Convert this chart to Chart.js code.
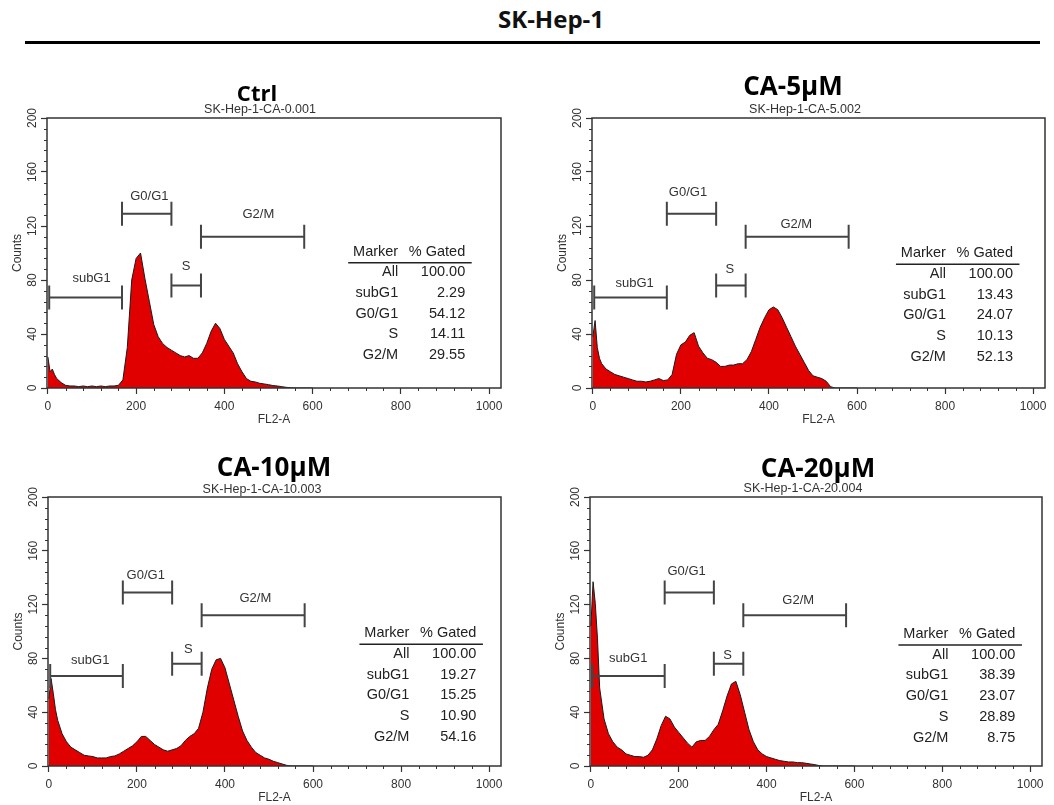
<!DOCTYPE html>
<html lang="en">
<head>
<meta charset="utf-8">
<title>SK-Hep-1 cell cycle</title>
<script src="https://cdn.jsdelivr.net/npm/chart.js@4.4.1/dist/chart.umd.min.js"></script>
<style>
    html, body { margin: 0; padding: 0; background: #fff; }
    .page { position: relative; width: 1054px; height: 805px; overflow: hidden; }
    .figure-title {
        position: absolute; left: 451px; top: 3px; width: 200px;
        text-align: center; font: bold 24px 'Open Sans', sans-serif; line-height: 32px; color: #111;
    }
    .figure-rule { position: absolute; left: 25px; top: 41px; width: 1015px; height: 3px; background: #000; }
    canvas { position: absolute; }
</style>
</head>
<body>
<div class="page">
    <div class="figure-title">SK-Hep-1</div>
    <div class="figure-rule"></div>
    <canvas id="panel-ctrl" width="527" height="367" style="left:0;top:60px"></canvas>
    <canvas id="panel-ca5" width="524" height="367" style="left:530px;top:60px"></canvas>
    <canvas id="panel-ca10" width="527" height="365" style="left:0;top:440px"></canvas>
    <canvas id="panel-ca20" width="524" height="365" style="left:530px;top:440px"></canvas>
</div>
<script>
// FL2-A channel positions where the histograms were read
const fl2Bins = [0, 5, 10, 15, 20, 30, 40, 50, 60, 70, 80, 90, 100, 110, 120, 130, 140, 150, 160, 170,
    180, 190, 200, 210, 220, 230, 240, 250, 260, 270, 280, 290, 300, 310, 320, 330, 340, 350, 360, 370,
    380, 390, 400, 410, 420, 430, 440, 450, 460, 470, 480, 490, 500, 510, 520, 530, 540, 550, 560, 570,
    580, 590, 600];

const ctrlCounts = [23, 12, 14, 10, 7, 4, 2, 1.5, 1.5, 1, 1.5, 1, 1.5, 1, 1.5, 1, 1.5, 1.5, 2, 6,
    30, 80, 96, 100, 81, 64, 47, 38, 33, 30, 28, 26, 24, 23, 24, 22, 22, 26, 33, 42,
    48, 44, 36, 31, 26, 18, 12, 7, 5, 4.5, 3.5, 3, 2.5, 1.8, 1.5, 1, 0.5, 0.2, 0, 0,
    0, 0, 0];
const ca5Counts = [38, 50, 30, 22, 18, 14, 12, 10, 9, 8, 7, 6, 5, 5, 4.5, 5, 6, 7, 5.5, 6,
    10, 25, 32, 34, 39, 41, 31, 26, 22, 21, 19, 16, 16, 17, 17, 18, 18, 21, 27, 36,
    45, 52, 58, 60, 58, 52, 45, 38, 31, 25, 19, 13, 9, 8, 7, 5, 1, 0, 0, 0,
    0, 0, 0];
const ca10Counts = [50, 65, 54, 42, 34, 24, 18, 14, 12, 10, 8, 7.5, 7, 6, 6, 6, 7, 7.5, 9, 11,
    13, 15, 18, 22, 22, 19, 16, 14, 12, 11, 12, 13, 15, 19, 22, 24, 28, 40, 58, 72,
    79, 80, 73, 61, 49, 37, 26, 19, 14, 10, 8, 6, 5, 3.5, 2.5, 1.5, 0.5, 0, 0, 0,
    0, 0, 0];
const ca20Counts = [104, 137, 121, 95, 58, 35, 24, 18, 14, 12, 9, 8, 7, 7, 6.5, 8, 12, 20, 30, 37,
    35, 29, 25, 21, 17, 14, 18, 19, 19, 22, 27, 31, 41, 52, 61, 63, 53, 40, 27, 18,
    12, 9, 7, 6, 5, 4, 3.5, 3, 3, 2.5, 2.5, 2, 1.5, 1, 0.3, 0, 0, 0, 0, 0,
    0, 0, 0];

// marker gates (FL2-A range and the count level the bar is drawn at)
const gateNames = ['subG1', 'G0/G1', 'S', 'G2/M'];
const gateStart = [3, 168, 280, 347];
const gateEnd = [168, 280, 347, 581];
const gateLevel = [67, 129, 76, 112];

const markerNames = ['All', 'subG1', 'G0/G1', 'S', 'G2/M'];
const ctrlGated = [100.00, 2.29, 54.12, 14.11, 29.55];
const ca5Gated = [100.00, 13.43, 24.07, 10.13, 52.13];
const ca10Gated = [100.00, 19.27, 15.25, 10.90, 54.16];
const ca20Gated = [100.00, 38.39, 23.07, 28.89, 8.75];

const panelTitles = ['Ctrl', 'CA-5µM', 'CA-10µM', 'CA-20µM'];
const sampleFiles = ['SK-Hep-1-CA-0.001', 'SK-Hep-1-CA-5.002', 'SK-Hep-1-CA-10.003', 'SK-Hep-1-CA-20.004'];

const xTickValues = [0, 200, 400, 600, 800, 1000];
const yTickValues = [0, 40, 80, 120, 160, 200];
const xMinorStep = 40;
const yMinorStep = 8;

const histRed = '#e00000';
const inkColor = '#333';
const sansFont = "'Liberation Sans', Arial, sans-serif";

// where things sit inside each canvas
const panelLayout = [
    { canvas: 'panel-ctrl', counts: ctrlCounts, gated: ctrlGated, titleSize: 22,
      titleAt: [257, 40.7], subtitleAt: [260, 52.8], pad: { left: 0, top: 58, right: 26 },
      labelX: [99, 230, 313, 477], labelLift: [19, 17, 19, 22], table: [794, 101] },
    { canvas: 'panel-ca5', counts: ca5Counts, gated: ca5Gated, titleSize: 26,
      titleAt: [263, 35], subtitleAt: [275, 52.8], pad: { left: 15, top: 58, right: 9 },
      labelX: [95, 216, 311, 462], labelLift: [14, 21, 16, 12], table: [802, 99.8] },
    { canvas: 'panel-ca10', counts: ca10Counts, gated: ca10Gated, titleSize: 26,
      titleAt: [274, 36], subtitleAt: [262, 52.8], pad: { left: 1, top: 57, right: 26 },
      labelX: [94, 220, 317, 469], labelLift: [15, 17, 14, 17], table: [819, 98.7] },
    { canvas: 'panel-ca20', counts: ca20Counts, gated: ca20Gated, titleSize: 26,
      titleAt: [288, 36.7], subtitleAt: [273, 52.2], pad: { left: 13, top: 57, right: 12 },
      labelX: [85, 218, 311, 472], labelLift: [17, 21, 8, 15], table: [814, 98.1] },
];

const flowOverlay = {
    id: 'flowOverlay',
    afterDatasetsDraw(chart, args, opts) {
        const { ctx, chartArea: area, scales: { x, y } } = chart;
        const layout = opts.layout;
        ctx.save();

        // box round the plot
        ctx.strokeStyle = inkColor;
        ctx.lineWidth = 1.5;
        ctx.strokeRect(area.left, area.top, area.right - area.left, area.bottom - area.top);

        // minor ticks
        ctx.lineWidth = 1;
        ctx.beginPath();
        for (let v = yMinorStep; v < 200; v += yMinorStep) {
            if (v % 40 === 0) continue;
            const py = Math.round(y.getPixelForValue(v)) + 0.5;
            ctx.moveTo(area.left - 3, py);
            ctx.lineTo(area.left, py);
        }
        for (let v = xMinorStep; v < 1000; v += xMinorStep) {
            if (v % 200 === 0) continue;
            const px = Math.round(x.getPixelForValue(v)) + 0.5;
            ctx.moveTo(px, area.bottom);
            ctx.lineTo(px, area.bottom + 3);
        }
        ctx.stroke();

        // gate brackets
        ctx.strokeStyle = '#444';
        ctx.lineWidth = 2;
        ctx.fillStyle = inkColor;
        ctx.font = `13px ${sansFont}`;
        ctx.textAlign = 'center';
        ctx.textBaseline = 'middle';
        gateNames.forEach((name, i) => {
            const x1 = x.getPixelForValue(gateStart[i]);
            const x2 = x.getPixelForValue(gateEnd[i]);
            const py = y.getPixelForValue(gateLevel[i]);
            ctx.beginPath();
            ctx.moveTo(x1, py);
            ctx.lineTo(x2, py);
            ctx.moveTo(x1, py - 12);
            ctx.lineTo(x1, py + 12);
            ctx.moveTo(x2, py - 12);
            ctx.lineTo(x2, py + 12);
            ctx.stroke();
            ctx.fillText(name, x.getPixelForValue(layout.labelX[i]), py - layout.labelLift[i]);
        });

        // marker table
        const markerRight = x.getPixelForValue(layout.table[0]);
        const gatedRight = markerRight + 67;
        const headerY = y.getPixelForValue(layout.table[1]);
        const rowStep = 20.7;
        ctx.fillStyle = '#222';
        ctx.font = `14.5px ${sansFont}`;
        ctx.textAlign = 'right';
        ctx.fillText('Marker', markerRight, headerY);
        ctx.fillText('% Gated', gatedRight, headerY);
        ctx.strokeStyle = '#222';
        ctx.lineWidth = 1.5;
        ctx.beginPath();
        ctx.moveTo(markerRight - 50, headerY + 11);
        ctx.lineTo(gatedRight + 6.5, headerY + 11);
        ctx.stroke();
        markerNames.forEach((name, i) => {
            const rowY = headerY + rowStep * (i + 1);
            ctx.fillText(name, markerRight, rowY);
            ctx.fillText(layout.gated[i].toFixed(2), gatedRight, rowY);
        });

        // panel title and sample file name
        ctx.textAlign = 'center';
        ctx.textBaseline = 'alphabetic';
        ctx.fillStyle = '#000';
        ctx.font = `bold ${layout.titleSize}px 'Open Sans', sans-serif`;
        ctx.fillText(layout.title, layout.titleAt[0], layout.titleAt[1]);
        ctx.fillStyle = inkColor;
        ctx.font = `12.5px ${sansFont}`;
        ctx.fillText(layout.file, layout.subtitleAt[0], layout.subtitleAt[1]);

        ctx.restore();
    },
};

function renderPanel(layout, index) {
    layout.title = panelTitles[index];
    layout.file = sampleFiles[index];
    const tickFont = { family: sansFont, size: 12 };

    return new Chart(document.getElementById(layout.canvas), {
        type: 'line',
        data: {
            datasets: [{
                data: fl2Bins.map((v, i) => ({ x: v, y: layout.counts[i] })),
                borderColor: '#1a1a1a',
                borderWidth: 1,
                backgroundColor: histRed,
                fill: 'origin',
                pointRadius: 0,
                tension: 0,
            }],
        },
        options: {
            responsive: false,
            animation: false,
            events: [],
            layout: { padding: { left: layout.pad.left, top: layout.pad.top, right: layout.pad.right, bottom: 0 } },
            plugins: {
                legend: { display: false },
                tooltip: { enabled: false },
                flowOverlay: { layout },
            },
            scales: {
                x: {
                    type: 'linear',
                    min: -2,
                    max: 1027,
                    afterBuildTicks: scale => { scale.ticks = xTickValues.map(value => ({ value })); },
                    afterFit: scale => { scale.height = 39; },
                    border: { display: false },
                    grid: { drawOnChartArea: false, tickLength: 6, tickColor: inkColor, tickWidth: 1.2 },
                    ticks: { font: tickFont, color: inkColor, padding: 5, maxRotation: 0, callback: value => String(value) },
                    title: { display: true, text: 'FL2-A', font: tickFont, color: inkColor, padding: { top: 0, bottom: 0 } },
                },
                y: {
                    min: 0,
                    max: 200,
                    afterBuildTicks: scale => { scale.ticks = yTickValues.map(value => ({ value })); },
                    afterFit: scale => { scale.width = 47; },
                    border: { display: false },
                    grid: { drawOnChartArea: false, tickLength: 6, tickColor: inkColor, tickWidth: 1.2 },
                    ticks: { font: tickFont, color: inkColor, padding: -2, minRotation: 90, maxRotation: 90, crossAlign: 'center', callback: value => String(value) },
                    title: { display: true, text: 'Counts', font: tickFont, color: inkColor, padding: { top: 10, bottom: 0 } },
                },
            },
        },
        plugins: [flowOverlay],
    });
}

panelLayout.forEach(renderPanel);
</script>
</body>
</html>
